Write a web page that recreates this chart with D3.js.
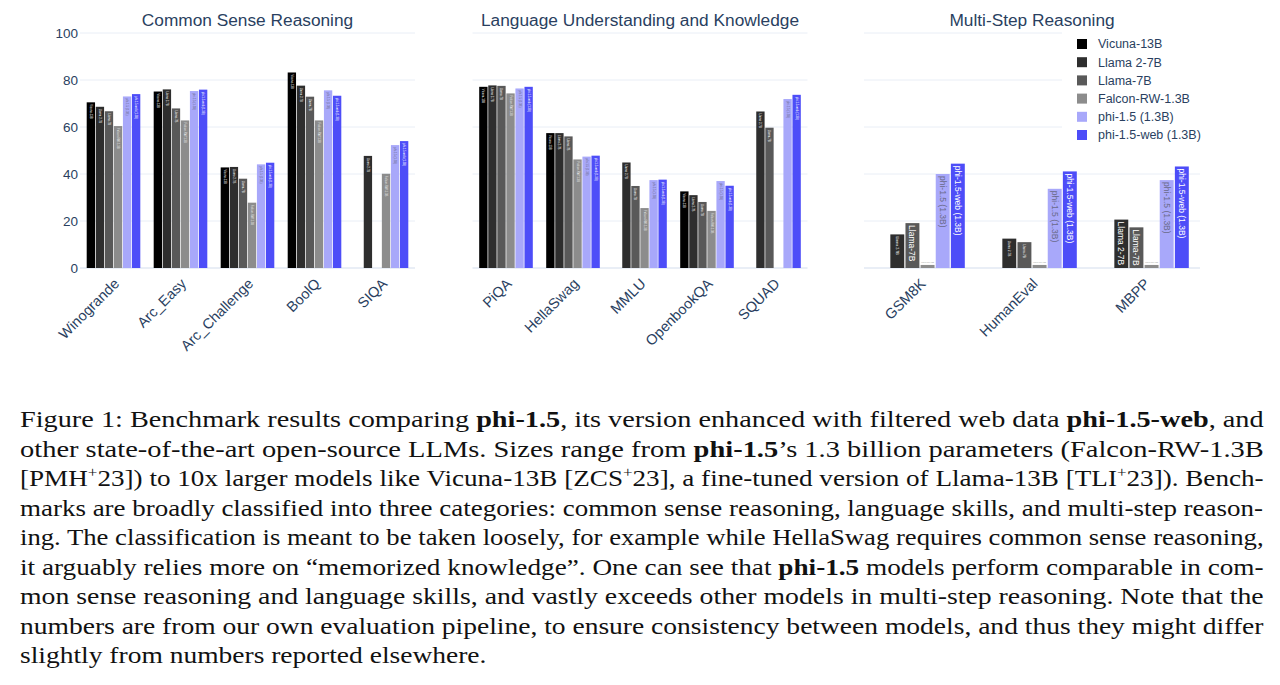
<!DOCTYPE html>
<html>
<head>
<meta charset="utf-8">
<script src="https://cdn.jsdelivr.net/npm/d3@7"></script>
<style>
  body { margin: 0; background: #fff; }
  svg { display: block; }
</style>
</head>
<body>
<div id="chart"></div>
<script>
// series (models) and colours
var seriesNames = ["Vicuna-13B", "Llama 2-7B", "Llama-7B", "Falcon-RW-1.3B", "phi-1.5 (1.3B)", "phi-1.5-web (1.3B)"];
var seriesColors = ["#000000", "#2e2e2e", "#595959", "#8c8c8c", "#a8a8fa", "#4d4df8"];
var labelColors = ["#ffffff", "#ffffff", "#ffffff", "#e6e6e6", "#6a6a8a", "#ffffff"];

// Common Sense Reasoning (rows = series above, null = not reported)
var commonCats = ["Winogrande", "Arc_Easy", "Arc_Challenge", "BoolQ", "SIQA"];
var commonValues = [
  [70.5, 75.1, 42.8, 83.2, null],
  [68.6, 76.0, 43.0, 77.6, 47.7],
  [66.7, 67.9, 38.0, 72.9, null],
  [60.4, 62.8, 27.8, 62.8, 40.1],
  [73.0, 75.3, 44.1, 75.6, 52.3],
  [74.0, 75.9, 44.8, 73.3, 54.0]
];

// Language Understanding and Knowledge
var langCats = ["PiQA", "HellaSwag", "MMLU", "OpenbookQA", "SQUAD"];
var langValues = [
  [77.1, 57.4, null, 32.6, null],
  [77.7, 57.4, 44.9, 31.0, 66.6],
  [77.5, 56.0, 34.9, 28.1, 59.7],
  [74.3, 46.2, 25.5, 24.3, null],
  [76.4, 47.4, 37.4, 37.0, 71.9],
  [77.1, 47.8, 37.6, 35.0, 73.7]
];

// Multi-Step Reasoning
var multiCats = ["GSM8K", "HumanEval", "MBPP"];
var multiValues = [
  [null, null, null],
  [14.3, 12.5, 20.6],
  [19.1, 11.0, 17.3],
  [1.3, 1.3, 1.3],
  [40.0, 33.7, 37.4],
  [44.4, 41.1, 43.2]
];

var yTicks = [0, 20, 40, 60, 80, 100];

// caption: **bold**, ^x = superscript
var captionLines = [
  "Figure 1: Benchmark results comparing **phi-1.5**, its version enhanced with filtered web data **phi-1.5-web**, and",
  "other state-of-the-art open-source LLMs.  Sizes range from **phi-1.5**\u2019s 1.3 billion parameters (Falcon-RW-1.3B",
  "[PMH^+23]) to 10x larger models like Vicuna-13B [ZCS^+23], a fine-tuned version of Llama-13B [TLI^+23]). Bench-",
  "marks are broadly classified into three categories: common sense reasoning, language skills, and multi-step reason-",
  "ing. The classification is meant to be taken loosely, for example while HellaSwag requires common sense reasoning,",
  "it arguably relies more on \u201cmemorized knowledge\u201d. One can see that **phi-1.5** models perform comparable in com-",
  "mon sense reasoning and language skills, and vastly exceeds other models in multi-step reasoning. Note that the",
  "numbers are from our own evaluation pipeline, to ensure consistency between models, and thus they might differ",
  "slightly from numbers reported elsewhere."
];

var width = 1280, height = 685;
var textColor = "#2a3f5f", gridColor = "#e9eef6";

var svg = d3.select("#chart").append("svg")
    .attr("width", width)
    .attr("height", height)
    .style("font-family", "'Liberation Sans', Arial, sans-serif");

var y = d3.scaleLinear().domain([0, 100]).range([268, 33]);

var panels = [
  {title: "Common Sense Reasoning", cats: commonCats, values: commonValues, range: [80, 415], font: 2.8, axis: true},
  {title: "Language Understanding and Knowledge", cats: langCats, values: langValues, range: [472.5, 807.5], font: 2.8, axis: false},
  {title: "Multi-Step Reasoning", cats: multiCats, values: multiValues, range: [864, 1200], font: 8.5, axis: false}
];

panels.forEach(function(p) {
    var g = svg.append("g");

    var x0 = d3.scaleBand()
        .domain(p.cats)
        .range(p.range)
        .paddingInner(0.2)
        .paddingOuter(0.1);

    var x1 = d3.scaleBand()
        .domain(d3.range(seriesNames.length))
        .range([0, x0.bandwidth()])
        .paddingInner(0.08);

    // grid
    g.selectAll(".grid")
        .data(yTicks)
        .enter().append("line")
        .attr("x1", p.range[0]).attr("x2", p.range[1])
        .attr("y1", function(d) { return y(d); })
        .attr("y2", function(d) { return y(d); })
        .attr("stroke", gridColor)
        .attr("stroke-width", function(d) { return d === 0 ? 2 : 1; });

    // title
    g.append("text")
        .attr("x", (p.range[0] + p.range[1]) / 2)
        .attr("y", 26)
        .attr("text-anchor", "middle")
        .attr("fill", textColor)
        .style("font-size", "17.3px")
        .text(p.title);

    // y axis labels only on the first panel
    if (p.axis) {
        var yAxis = d3.axisLeft(y).tickValues(yTicks).tickSize(0).tickPadding(0);
        g.append("g")
            .attr("transform", "translate(78,0)")
            .call(yAxis)
            .call(function(a) { a.select(".domain").remove(); })
            .selectAll("text")
            .attr("fill", textColor)
            .style("font-size", "13.5px")
            .style("font-family", "'Liberation Sans', Arial, sans-serif");
    }

    // x axis labels, rotated
    var xAxis = d3.axisBottom(x0).tickSize(0).tickPadding(0);
    var ax = g.append("g")
        .attr("transform", "translate(0,268)")
        .call(xAxis);
    ax.select(".domain").remove();
    ax.selectAll("text")
        .attr("fill", textColor)
        .attr("y", 0)
        .attr("dy", "0.35em")
        .attr("text-anchor", "end")
        .attr("transform", "translate(3,13) rotate(-45)")
        .style("font-size", "14.5px")
        .style("font-family", "'Liberation Sans', Arial, sans-serif");

    // bars
    var rows = [];
    p.cats.forEach(function(c, ci) {
        seriesNames.forEach(function(s, si) {
            var v = p.values[si][ci];
            if (v != null) rows.push({cat: c, s: si, value: v});
        });
    });

    var bars = g.selectAll(".bar")
        .data(rows)
        .enter().append("g");

    bars.append("rect")
        .attr("x", function(d) { return x0(d.cat) + x1(d.s); })
        .attr("y", function(d) { return y(d.value); })
        .attr("width", x1.bandwidth())
        .attr("height", function(d) { return y(0) - y(d.value); })
        .attr("fill", function(d) { return seriesColors[d.s]; });

    // labels inside the bars (shrunk to fit, like plotly)
    bars.each(function(d) {
        var bw = x1.bandwidth();
        var bh = y(0) - y(d.value);
        var cx = x0(d.cat) + x1(d.s) + bw / 2;
        var t = d3.select(this).append("text")
            .attr("fill", labelColors[d.s])
            .style("font-size", p.font + "px")
            .text(seriesNames[d.s]);
        var len = t.node().getComputedTextLength();
        if (bh > 8) {
            var fs = Math.min(p.font, p.font * (bh - 3) / len);
            if (fs < p.font * 0.8) fs = fs * 0.6;
            t.style("font-size", fs + "px")
                .attr("dominant-baseline", "central")
                .attr("transform", "translate(" + cx + "," + (y(d.value) + 2) + ") rotate(90)");
        } else {
            // too short: horizontal text just above the bar
            var fs2 = p.font * (bw - 1) / len;
            t.style("font-size", fs2 + "px")
                .attr("fill", "#9a9a9a")
                .attr("text-anchor", "middle")
                .attr("x", cx)
                .attr("y", y(d.value) - 2);
        }
    });
});

// legend
var legend = svg.append("g");
legend.append("rect")
    .attr("x", 1062).attr("y", 30)
    .attr("width", 138).attr("height", 118)
    .attr("fill", "#fff");

var li = legend.selectAll(".item")
    .data(seriesNames)
    .enter().append("g")
    .attr("transform", function(d, i) { return "translate(1077," + (44 + i * 18.2) + ")"; });
li.append("rect")
    .attr("x", 0).attr("y", -5)
    .attr("width", 10).attr("height", 10)
    .attr("fill", function(d, i) { return seriesColors[i]; });
li.append("text")
    .attr("x", 21)
    .attr("dy", "0.35em")
    .attr("fill", textColor)
    .style("font-size", "12.5px")
    .text(function(d) { return d; });

// caption
var cap = svg.append("g")
    .style("font-family", "'Liberation Serif', 'Times New Roman', serif")
    .style("font-size", "24px")
    .attr("fill", "#111");

var capLeft = 20, capRight = 1264, capTop = 427, capStep = 29.5;
var scales = [];
var nodes = captionLines.map(function(line, i) {
    var t = cap.append("text")
        .attr("x", 0).attr("y", 0);
    var raised = false;
    line.split(/(\*\*[^*]+\*\*|\^.)/).forEach(function(part) {
        if (!part) return;
        var ts;
        if (part.indexOf("**") === 0) {
            ts = t.append("tspan").style("font-weight", "bold").text(part.slice(2, -2));
        } else if (part[0] === "^") {
            t.append("tspan").attr("dy", -9).style("font-size", "15px").text(part.slice(1));
            raised = true;
            return;
        } else {
            ts = t.append("tspan").text(part);
        }
        if (raised) { ts.attr("dy", 9); raised = false; }
    });
    var w = t.node().getBBox().width;
    var s = (capRight - capLeft) / w;
    if (i < captionLines.length - 1) scales.push(s);
    return {t: t, s: s};
});
var meanScale = d3.mean(scales);
nodes.forEach(function(n, i) {
    var s = i < nodes.length - 1 ? n.s : meanScale;
    n.t.attr("transform", "translate(" + capLeft + "," + (capTop + i * capStep) + ") scale(" + s + ",1)");
});
</script>
</body>
</html>
